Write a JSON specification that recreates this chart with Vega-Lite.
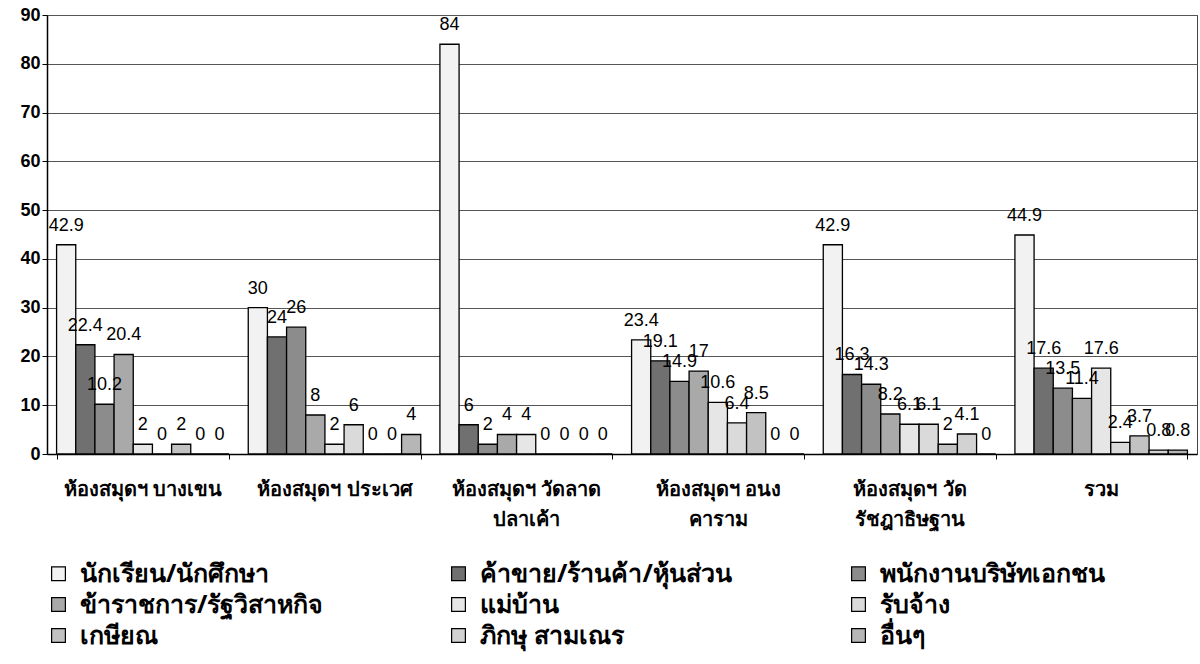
{
  "$schema": "https://vega.github.io/schema/vega-lite/v6.json",
  "width": 1150,
  "height": 439,
  "autosize": {"type": "none"},
  "padding": {"left": 47, "top": 15, "right": 3, "bottom": 210},
  "background": "white",
  "config": {
    "view": {"stroke": "#444", "strokeWidth": 1},
    "font": "Liberation Sans"
  },
  "data": {
    "values": [
      {"lib": "ห้องสมุดฯ บางเขน", "occ": "นักเรียน/นักศึกษา", "v": 42.9},
      {"lib": "ห้องสมุดฯ บางเขน", "occ": "ค้าขาย/ร้านค้า/หุ้นส่วน", "v": 22.4},
      {"lib": "ห้องสมุดฯ บางเขน", "occ": "พนักงานบริษัทเอกชน", "v": 10.2},
      {"lib": "ห้องสมุดฯ บางเขน", "occ": "ข้าราชการ/รัฐวิสาหกิจ", "v": 20.4},
      {"lib": "ห้องสมุดฯ บางเขน", "occ": "แม่บ้าน", "v": 2},
      {"lib": "ห้องสมุดฯ บางเขน", "occ": "รับจ้าง", "v": 0},
      {"lib": "ห้องสมุดฯ บางเขน", "occ": "เกษียณ", "v": 2},
      {"lib": "ห้องสมุดฯ บางเขน", "occ": "ภิกษุ สามเณร", "v": 0},
      {"lib": "ห้องสมุดฯ บางเขน", "occ": "อื่นๆ", "v": 0},
      {"lib": "ห้องสมุดฯ ประเวศ", "occ": "นักเรียน/นักศึกษา", "v": 30},
      {"lib": "ห้องสมุดฯ ประเวศ", "occ": "ค้าขาย/ร้านค้า/หุ้นส่วน", "v": 24},
      {"lib": "ห้องสมุดฯ ประเวศ", "occ": "พนักงานบริษัทเอกชน", "v": 26},
      {"lib": "ห้องสมุดฯ ประเวศ", "occ": "ข้าราชการ/รัฐวิสาหกิจ", "v": 8},
      {"lib": "ห้องสมุดฯ ประเวศ", "occ": "แม่บ้าน", "v": 2},
      {"lib": "ห้องสมุดฯ ประเวศ", "occ": "รับจ้าง", "v": 6},
      {"lib": "ห้องสมุดฯ ประเวศ", "occ": "เกษียณ", "v": 0},
      {"lib": "ห้องสมุดฯ ประเวศ", "occ": "ภิกษุ สามเณร", "v": 0},
      {"lib": "ห้องสมุดฯ ประเวศ", "occ": "อื่นๆ", "v": 4},
      {"lib": "ห้องสมุดฯ วัดลาด\nปลาเค้า", "occ": "นักเรียน/นักศึกษา", "v": 84},
      {"lib": "ห้องสมุดฯ วัดลาด\nปลาเค้า", "occ": "ค้าขาย/ร้านค้า/หุ้นส่วน", "v": 6},
      {"lib": "ห้องสมุดฯ วัดลาด\nปลาเค้า", "occ": "พนักงานบริษัทเอกชน", "v": 2},
      {"lib": "ห้องสมุดฯ วัดลาด\nปลาเค้า", "occ": "ข้าราชการ/รัฐวิสาหกิจ", "v": 4},
      {"lib": "ห้องสมุดฯ วัดลาด\nปลาเค้า", "occ": "แม่บ้าน", "v": 4},
      {"lib": "ห้องสมุดฯ วัดลาด\nปลาเค้า", "occ": "รับจ้าง", "v": 0},
      {"lib": "ห้องสมุดฯ วัดลาด\nปลาเค้า", "occ": "เกษียณ", "v": 0},
      {"lib": "ห้องสมุดฯ วัดลาด\nปลาเค้า", "occ": "ภิกษุ สามเณร", "v": 0},
      {"lib": "ห้องสมุดฯ วัดลาด\nปลาเค้า", "occ": "อื่นๆ", "v": 0},
      {"lib": "ห้องสมุดฯ อนง\nคาราม", "occ": "นักเรียน/นักศึกษา", "v": 23.4},
      {"lib": "ห้องสมุดฯ อนง\nคาราม", "occ": "ค้าขาย/ร้านค้า/หุ้นส่วน", "v": 19.1},
      {"lib": "ห้องสมุดฯ อนง\nคาราม", "occ": "พนักงานบริษัทเอกชน", "v": 14.9},
      {"lib": "ห้องสมุดฯ อนง\nคาราม", "occ": "ข้าราชการ/รัฐวิสาหกิจ", "v": 17},
      {"lib": "ห้องสมุดฯ อนง\nคาราม", "occ": "แม่บ้าน", "v": 10.6},
      {"lib": "ห้องสมุดฯ อนง\nคาราม", "occ": "รับจ้าง", "v": 6.4},
      {"lib": "ห้องสมุดฯ อนง\nคาราม", "occ": "เกษียณ", "v": 8.5},
      {"lib": "ห้องสมุดฯ อนง\nคาราม", "occ": "ภิกษุ สามเณร", "v": 0},
      {"lib": "ห้องสมุดฯ อนง\nคาราม", "occ": "อื่นๆ", "v": 0},
      {"lib": "ห้องสมุดฯ วัด\nรัชฎาธิษฐาน", "occ": "นักเรียน/นักศึกษา", "v": 42.9},
      {"lib": "ห้องสมุดฯ วัด\nรัชฎาธิษฐาน", "occ": "ค้าขาย/ร้านค้า/หุ้นส่วน", "v": 16.3},
      {"lib": "ห้องสมุดฯ วัด\nรัชฎาธิษฐาน", "occ": "พนักงานบริษัทเอกชน", "v": 14.3},
      {"lib": "ห้องสมุดฯ วัด\nรัชฎาธิษฐาน", "occ": "ข้าราชการ/รัฐวิสาหกิจ", "v": 8.2},
      {"lib": "ห้องสมุดฯ วัด\nรัชฎาธิษฐาน", "occ": "แม่บ้าน", "v": 6.1},
      {"lib": "ห้องสมุดฯ วัด\nรัชฎาธิษฐาน", "occ": "รับจ้าง", "v": 6.1},
      {"lib": "ห้องสมุดฯ วัด\nรัชฎาธิษฐาน", "occ": "เกษียณ", "v": 2},
      {"lib": "ห้องสมุดฯ วัด\nรัชฎาธิษฐาน", "occ": "ภิกษุ สามเณร", "v": 4.1},
      {"lib": "ห้องสมุดฯ วัด\nรัชฎาธิษฐาน", "occ": "อื่นๆ", "v": 0},
      {"lib": "รวม", "occ": "นักเรียน/นักศึกษา", "v": 44.9},
      {"lib": "รวม", "occ": "ค้าขาย/ร้านค้า/หุ้นส่วน", "v": 17.6},
      {"lib": "รวม", "occ": "พนักงานบริษัทเอกชน", "v": 13.5},
      {"lib": "รวม", "occ": "ข้าราชการ/รัฐวิสาหกิจ", "v": 11.4},
      {"lib": "รวม", "occ": "แม่บ้าน", "v": 17.6},
      {"lib": "รวม", "occ": "รับจ้าง", "v": 2.4},
      {"lib": "รวม", "occ": "เกษียณ", "v": 3.7},
      {"lib": "รวม", "occ": "ภิกษุ สามเณร", "v": 0.8},
      {"lib": "รวม", "occ": "อื่นๆ", "v": 0.8}
    ]
  },
  "encoding": {
    "x": {
      "field": "lib",
      "type": "nominal",
      "sort": null,
      "scale": {"paddingInner": 0.1, "paddingOuter": 0.05},
      "axis": {
        "title": null,
        "labelAngle": 0,
        "labelFont": "Noto Sans",
        "labelFontSize": 20,
        "labelFontWeight": "bold",
        "labelColor": "black",
        "labelPadding": 20,
        "labelLineHeight": 30,
        "labelExpr": "split(datum.label, '\\n')",
        "tickBand": "extent",
        "tickColor": "black",
        "tickSize": 5,
        "domainColor": "black",
        "domainWidth": 1.5
      }
    },
    "xOffset": {
      "field": "occ",
      "type": "nominal",
      "sort": ["นักเรียน/นักศึกษา", "ค้าขาย/ร้านค้า/หุ้นส่วน", "พนักงานบริษัทเอกชน", "ข้าราชการ/รัฐวิสาหกิจ", "แม่บ้าน", "รับจ้าง", "เกษียณ", "ภิกษุ สามเณร", "อื่นๆ"],
      "scale": {"paddingInner": 0, "paddingOuter": 0}
    },
    "y": {
      "field": "v",
      "type": "quantitative",
      "scale": {"domain": [0, 90]},
      "axis": {
        "title": null,
        "values": [0, 10, 20, 30, 40, 50, 60, 70, 80, 90],
        "labelFontSize": 18,
        "labelFontWeight": "bold",
        "labelColor": "black",
        "gridColor": "#555",
        "gridWidth": 1,
        "tickColor": "black",
        "tickSize": 5,
        "domainColor": "black",
        "domainWidth": 1.5
      }
    }
  },
  "layer": [
    {
      "mark": {"type": "bar", "stroke": "black", "strokeWidth": 1.3},
      "encoding": {
        "color": {
          "field": "occ",
          "type": "nominal",
          "sort": ["นักเรียน/นักศึกษา", "ค้าขาย/ร้านค้า/หุ้นส่วน", "พนักงานบริษัทเอกชน", "ข้าราชการ/รัฐวิสาหกิจ", "แม่บ้าน", "รับจ้าง", "เกษียณ", "ภิกษุ สามเณร", "อื่นๆ"],
          "scale": {
            "domain": ["นักเรียน/นักศึกษา", "ค้าขาย/ร้านค้า/หุ้นส่วน", "พนักงานบริษัทเอกชน", "ข้าราชการ/รัฐวิสาหกิจ", "แม่บ้าน", "รับจ้าง", "เกษียณ", "ภิกษุ สามเณร", "อื่นๆ"],
            "range": ["#f2f2f2", "#707070", "#8c8c8c", "#a9a9a9", "#e6e6e6", "#dadada", "#c2c2c2", "#d2d2d2", "#b6b6b6"]
          },
          "legend": {
            "title": null,
            "orient": "none",
            "legendX": -1,
            "legendY": 546,
            "columns": 3,
            "direction": "horizontal",
            "gridAlign": "all",
            "columnPadding": 114,
            "rowPadding": 5,
            "symbolType": "square",
            "symbolSize": 190,
            "symbolStrokeColor": "black",
            "symbolStrokeWidth": 1.2,
            "symbolOpacity": 1,
            "labelFont": "Noto Sans",
            "labelFontSize": 25,
            "labelFontWeight": "bold",
            "labelColor": "black",
            "labelOffset": 9,
            "labelLimit": 400
          }
        }
      }
    },
    {
      "mark": {"type": "text", "baseline": "bottom", "dy": -10, "fontSize": 18, "font": "Liberation Sans", "color": "black"},
      "encoding": {
        "text": {"field": "v", "type": "quantitative"}
      }
    }
  ]
}
